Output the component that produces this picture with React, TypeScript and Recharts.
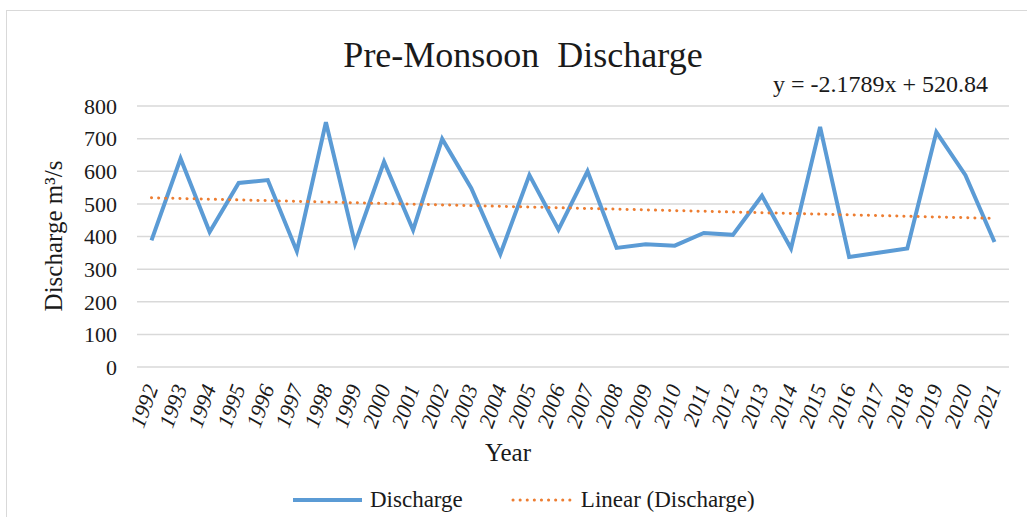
import { LineChart, Line, XAxis, YAxis, CartesianGrid, Legend } from 'recharts';

const FONT = "'Liberation Serif', 'Times New Roman', serif";
const BLUE = '#5B9BD5';
const ORANGE = '#ED7D31';

const years = [
  '1992', '1993', '1994', '1995', '1996', '1997', '1998', '1999', '2000', '2001',
  '2002', '2003', '2004', '2005', '2006', '2007', '2008', '2009', '2010', '2011',
  '2012', '2013', '2014', '2015', '2016', '2017', '2018', '2019', '2020', '2021',
];

// pre-monsoon discharge, m3/s
const discharge = [
  388, 639, 414, 564, 573, 355, 750, 378, 629, 420,
  699, 548, 346, 588, 421, 600, 365, 376, 372, 411,
  405, 525, 363, 736, 337, 350, 363, 720, 588, 383,
];

const yTicks = [0, 100, 200, 300, 400, 500, 600, 700, 800];

// ends of the linear trend y = -2.1789x + 520.84
const trendFirst = 518.66;
const trendLast = 455.47;

const data = years.map((year, i) => ({
  year,
  discharge: discharge[i],
  trend: i === 0 ? trendFirst : i === years.length - 1 ? trendLast : null,
}));

const YearTick = ({ x, y, payload }: any) => {
  const tx = x + 7;
  const ty = y + 19;
  return (
    <text
      x={tx}
      y={ty}
      transform={`rotate(-70, ${tx}, ${ty})`}
      textAnchor="end"
      style={{ fontFamily: FONT, fontStyle: 'italic', fontSize: 22, fill: '#1a1a1a' }}
    >
      {payload.value}
    </text>
  );
};

const LegendContent = () => (
  <div
    style={{
      height: 34,
      display: 'flex',
      alignItems: 'center',
      paddingLeft: 293,
      fontFamily: FONT,
      fontSize: 23,
      color: '#1a1a1a',
    }}
  >
    <svg width={69} height={8}>
      <line x1={0} y1={4} x2={69} y2={4} stroke={BLUE} strokeWidth={4} />
    </svg>
    <span style={{ marginLeft: 8 }}>Discharge</span>
    <svg width={62} height={8} style={{ marginLeft: 48 }}>
      <line x1={2} y1={4} x2={60} y2={4} stroke={ORANGE} strokeWidth={3} strokeDasharray="0.1 7" strokeLinecap="round" />
    </svg>
    <span style={{ marginLeft: 8 }}>Linear (Discharge)</span>
  </div>
);

export default function App() {
  return (
    <div
      style={{
        position: 'absolute',
        left: 0,
        top: 0,
        width: 1027,
        height: 517,
        overflow: 'hidden',
        background: '#fff',
        fontFamily: FONT,
        color: '#1a1a1a',
      }}
    >
      <div
        style={{
          position: 'absolute',
          left: 6,
          top: 10,
          width: 1040,
          height: 540,
          border: '1.5px solid #d9d9d9',
        }}
      />
      <LineChart width={1027} height={517} data={data} margin={{ top: 106, right: 18, left: 0, bottom: 0 }}>
        <CartesianGrid vertical={false} stroke="#d9d9d9" strokeWidth={1.5} />
        <XAxis
          dataKey="year"
          interval={0}
          axisLine={false}
          tickLine={false}
          tickSize={0}
          height={116}
          padding={{ left: 14.5, right: 14.5 }}
          tick={<YearTick />}
        />
        <YAxis
          domain={[0, 800]}
          ticks={yTicks}
          width={137}
          axisLine={false}
          tickLine={false}
          tickSize={0}
          tickMargin={20}
          tick={{ fontSize: 22, fontFamily: FONT, fill: '#1a1a1a' }}
        />
        <Legend verticalAlign="bottom" content={<LegendContent />} />
        <Line
          type="linear"
          dataKey="discharge"
          name="Discharge"
          stroke={BLUE}
          strokeWidth={4}
          dot={false}
          activeDot={false}
          isAnimationActive={false}
        />
        <Line
          type="linear"
          dataKey="trend"
          name="Linear (Discharge)"
          stroke={ORANGE}
          strokeWidth={3}
          strokeDasharray="0.1 7"
          strokeLinecap="round"
          connectNulls
          dot={false}
          activeDot={false}
          isAnimationActive={false}
        />
      </LineChart>

      <div style={{ position: 'absolute', left: 0, width: 1046, top: 35, lineHeight: '40px', textAlign: 'center', fontSize: 36 }}>
        Pre-Monsoon&nbsp; Discharge
      </div>
      <div style={{ position: 'absolute', left: 773, top: 70, lineHeight: '28px', fontSize: 24, whiteSpace: 'nowrap' }}>
        y = -2.1789x + 520.84
      </div>
      <div
        style={{
          position: 'absolute',
          left: -46,
          top: 221,
          width: 200,
          lineHeight: '30px',
          textAlign: 'center',
          fontSize: 25,
          transform: 'rotate(-90deg)',
          whiteSpace: 'nowrap',
        }}
      >
        Discharge m³/s
      </div>
      <div style={{ position: 'absolute', left: 408, top: 438, width: 200, lineHeight: '30px', textAlign: 'center', fontSize: 25 }}>
        Year
      </div>
    </div>
  );
}
